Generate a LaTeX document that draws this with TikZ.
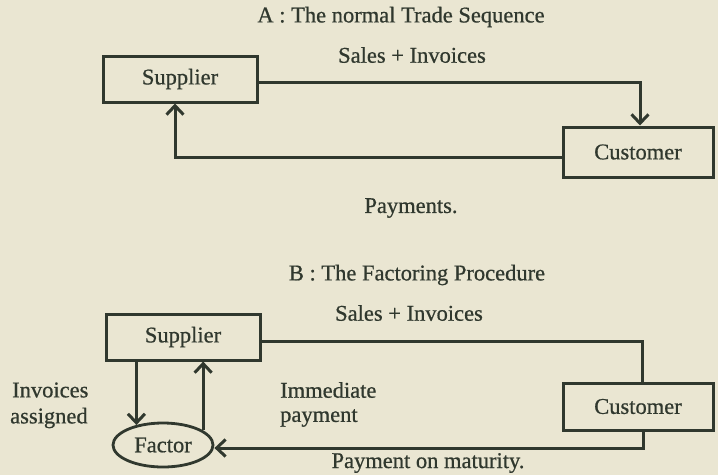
\documentclass[tikz,border=0pt]{standalone}
\usepackage{fontspec}
\setmainfont{Liberation Serif}
\newfontfamily\inkfont[FakeBold=0.7]{Liberation Serif}
\usetikzlibrary{arrows.meta,shapes.geometric}
\definecolor{paper}{RGB}{234,230,210}
\definecolor{ink}{RGB}{48,56,46}
\begin{document}
\begin{tikzpicture}[x=1pt,y=-1pt,
  every node/.style={text=ink,font=\inkfont\fontsize{22.5}{26}\selectfont},
  box/.style={draw=ink,line width=3pt,rectangle,inner sep=0pt},
  oval/.style={draw=ink,line width=2.8pt,ellipse,inner sep=0pt,minimum width=100pt,minimum height=44pt},
  lbl/.style={inner sep=0pt},
  link/.style={draw=ink,line width=3pt},
  arr/.style={link,-{Straight Barb[length=9pt,width=17pt,line width=3pt]}}]
\fill[paper] (0,0) rectangle (718,475);
\useasboundingbox (0,0) rectangle (718,475);

% ---- A ----
\node[lbl] (titleA) at (401,17) {A : The normal Trade Sequence};
\node[lbl] (salesA) at (412,55) {Sales + Invoices};
\node[box,minimum width=154pt,minimum height=46pt] (supA) at (180,79) {Supplier};
\node[box,minimum width=150pt,minimum height=50pt] (custA) at (638,152) {Customer};
\node[lbl] (payA) at (411,208) {Payments.};
\draw[arr] ([yshift=-3pt]supA.east) -| ([xshift=2pt]custA.north);
\draw[arr] ([yshift=-5pt]custA.west) -| ([xshift=-5pt]supA.south);

% ---- B ----
\node[lbl] (titleB) at (417,275) {B : The Factoring Procedure};
\node[lbl] (salesB) at (409,313) {Sales + Invoices};
\node[box,minimum width=154pt,minimum height=46pt] (supB) at (183,337) {Supplier};
\node[box,minimum width=150pt,minimum height=47pt] (custB) at (638,406.5) {Customer};
\node[oval] (factor) at (163,445) {Factor};
\node[lbl,anchor=west] (inv) at (12,390) {Invoices};
\node[lbl,anchor=west] (asg) at (10,418) {assigned};
\node[lbl,anchor=west] (imm) at (280,390) {Immediate};
\node[lbl,anchor=west] (pay) at (280,418) {payment};
\node[lbl] (mat) at (428,463) {Payment on maturity.};
\draw[link] ([yshift=-4pt]supB.east) -| ([xshift=4pt]custB.north);
\draw[arr] ([xshift=5pt]custB.south) |- ([yshift=-3pt]factor.east);
\draw[arr] (supB.south -| factor.143) -- (factor.143);
\draw[arr] (factor.20) -- (factor.20 |- supB.south);
\end{tikzpicture}
\end{document}
